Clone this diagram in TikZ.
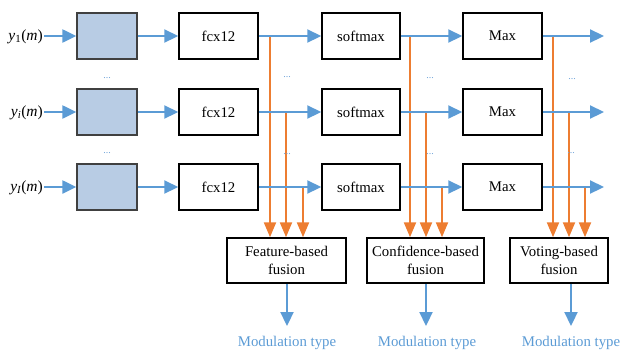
\documentclass[tikz,border=0pt]{standalone}
\usepackage{fontspec}
\setmainfont{Liberation Serif}
\usetikzlibrary{arrows.meta}
\definecolor{lblue}{HTML}{5B9BD5}
\definecolor{lorange}{HTML}{ED7D31}
\definecolor{boxfill}{HTML}{B8CCE4}
\definecolor{dotblue}{HTML}{6FA3DA}
\tikzset{
  bx/.style={draw=black, line width=1.5bp, minimum height=46bp, inner sep=0pt, font=\fontsize{14.8bp}{16bp}\selectfont},
  inbox/.style={draw=black!75, line width=1.3bp, fill=boxfill, minimum width=60bp, minimum height=46bp, inner sep=0pt},
  fus/.style={draw=black, line width=1.5bp, minimum height=45bp, inner sep=0pt, align=center, font=\fontsize{14.8bp}{17.5bp}\selectfont},
  barrow/.style={draw=lblue, line width=2.2bp, -{Triangle[length=14bp,width=13bp]}},
  oarrow/.style={draw=lorange, line width=2.2bp, -{Triangle[length=15bp,width=12bp]}},
  lbl/.style={anchor=east, inner sep=1bp, font=\fontsize{15.5bp}{17bp}\selectfont},
  dts/.style={text=dotblue, font=\fontsize{10bp}{11bp}\selectfont, inner sep=0pt},
  mod/.style={text=lblue, anchor=base, inner sep=0pt, font=\fontsize{14.8bp}{16bp}\selectfont}
}
\begin{document}
\begin{tikzpicture}[x=1bp,y=-1bp]
\useasboundingbox (0,0) rectangle (628,350);
% rows
\foreach \r/\yy/\sub in {1/36/\upshape 1, 2/112/i, 3/187/I}{
  \node[lbl] (y\r) at (44,\yy+1) {{\itshape y}\textsubscript{\itshape\sub}({\itshape m})};
  \node[inbox] (b\r) at (107,\yy) {};
  \node[bx, minimum width=79bp] (f\r) at (218.5,\yy) {fcx12};
  \node[bx, minimum width=78bp] (s\r) at (361,\yy) {softmax};
  \node[bx, minimum width=79bp] (m\r) at (502.5,\yy) {Max};
  \coordinate (e\r) at (604,\yy);
}
% fusion boxes
\node[fus, minimum width=119bp] (F1) at (286.5,260.5) {Feature-based\\fusion};
\node[fus, minimum width=117bp] (F2) at (425.5,260.5) {Confidence-based\\fusion};
\node[fus, minimum width=98bp] (F3) at (559,260.5) {Voting-based\\fusion};
% tap points
\coordinate (a1) at (270,36);  \coordinate (a2) at (286,112); \coordinate (a3) at (303,187);
\coordinate (c1) at (410,36);  \coordinate (c2) at (426,112); \coordinate (c3) at (442,187);
\coordinate (v1) at (553,36);  \coordinate (v2) at (569,112); \coordinate (v3) at (585,187);
% orange taps
\draw[oarrow] (a1) -- (a1 |- F1.north);
\draw[oarrow] (a2) -- (a2 |- F1.north);
\draw[oarrow] (a3) -- (a3 |- F1.north);
\draw[oarrow] (c1) -- (c1 |- F2.north);
\draw[oarrow] (c2) -- (c2 |- F2.north);
\draw[oarrow] (c3) -- (c3 |- F2.north);
\draw[oarrow] (v1) -- (v1 |- F3.north);
\draw[oarrow] (v2) -- (v2 |- F3.north);
\draw[oarrow] (v3) -- (v3 |- F3.north);
% blue arrows
\foreach \r in {1,2,3}{
  \draw[barrow] (y\r.east |- b\r) -- (b\r);
  \draw[barrow] (b\r) -- (f\r);
  \draw[barrow] (f\r) -- (s\r);
  \draw[barrow] (s\r) -- (m\r);
  \draw[barrow] (m\r) -- (e\r);
}
% outputs
\coordinate (o1) at (287,326); \coordinate (o2) at (426,326); \coordinate (o3) at (571,326);
\draw[barrow] (F1.south -| o1) -- (o1);
\draw[barrow] (F2.south -| o2) -- (o2);
\draw[barrow] (F3.south -| o3) -- (o3);
\node[mod] (t1) at (287,346.5) {Modulation type};
\node[mod] (t2) at (427,346.5) {Modulation type};
\node[mod] (t3) at (571,346.5) {Modulation type};
% dots
\node[dts] (d1) at (107,78) {...};
\node[dts] (d2) at (107,153) {...};
\node[dts] (d3) at (287,77) {...};
\node[dts] (d4) at (287,154) {...};
\node[dts] (d5) at (430,78) {...};
\node[dts] (d6) at (430,154) {...};
\node[dts] (d7) at (572,79) {...};
\node[dts] (d8) at (571,153) {...};
\end{tikzpicture}
\end{document}
